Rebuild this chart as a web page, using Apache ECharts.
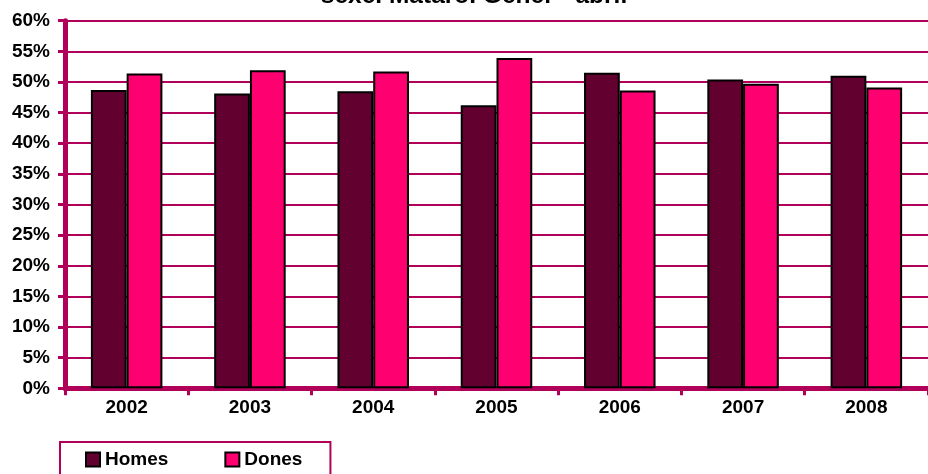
<!DOCTYPE html>
<html><head><meta charset="utf-8">
<script src="https://cdn.jsdelivr.net/npm/echarts@6/dist/echarts.min.js"></script>
<style>html,body{margin:0;padding:0;background:#fff}#c{width:928px;height:474px}</style>
</head><body><div id="c"></div>
<script>
const titleText = 'sexe. Mataró. Gener - abril';
const categories = ['2002','2003','2004','2005','2006','2007','2008'];
const homes = [48.7, 48.1, 48.5, 46.2, 51.5, 50.4, 51.0];
const dones = [51.4, 51.9, 51.7, 53.9, 48.6, 49.7, 49.1];
const yMin = 0, yMax = 60, yStep = 5;

const AX = '#B0005A';
const FONT = 'Liberation Sans, Arial, sans-serif';
const chart = echarts.init(document.getElementById('c'), null, {renderer:'canvas'});
chart.setOption({
  animation: false,
  backgroundColor: '#fff',
  title: {
    text: titleText, left: 469, textAlign: 'center', top: -21,
    textStyle: {fontFamily: FONT, fontWeight: 'bold', fontSize: 24.5, color: '#000'}
  },
  legend: {
    left: 60, top: 442, orient: 'horizontal',
    data: ['Homes','Dones'],
    itemWidth: 14, itemHeight: 14, itemGap: 56,
    borderColor: AX, borderWidth: 2, backgroundColor: '#fff',
    padding: [8, 28, 14, 25],
    textStyle: {fontFamily: FONT, fontWeight: 'bold', fontSize: 19, color: '#000'},
    icon: 'rect'
  },
  grid: {left: 65, top: 20.7, bottom: 85.7, right: -7, containLabel: false},
  xAxis: {
    type: 'category', data: categories,
    axisLine: {lineStyle: {color: AX, width: 5}},
    axisTick: {show: true, length: 7, lineStyle: {color: AX, width: 3}},
    axisLabel: {fontFamily: FONT, fontWeight: 'bold', fontSize: 19, color: '#000', margin: 10}
  },
  yAxis: {
    type: 'value', min: yMin, max: yMax, interval: yStep,
    axisLine: {show: true, lineStyle: {color: AX, width: 5}},
    axisTick: {show: true, length: 7, lineStyle: {color: AX, width: 3}},
    splitLine: {lineStyle: {color: AX, width: 2}},
    axisLabel: {fontFamily: FONT, fontWeight: 'bold', fontSize: 19, color: '#000', margin: 15,
      formatter: v => v + '%'}
  },
  series: [
    {name: 'Homes', type: 'bar', data: homes, barGap: '0%', barCategoryGap: '42%',
     itemStyle: {color: '#620030', borderColor: '#000', borderWidth: 2}},
    {name: 'Dones', type: 'bar', data: dones,
     itemStyle: {color: '#FF0070', borderColor: '#000', borderWidth: 2}}
  ]
});
</script></body></html>
